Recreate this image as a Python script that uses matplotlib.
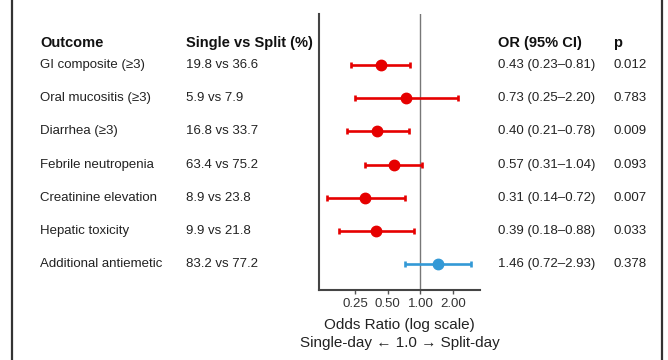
import matplotlib
matplotlib.use("Agg")
import matplotlib.pyplot as plt
from matplotlib.lines import Line2D
import matplotlib.transforms as mtransforms

plt.rcParams['font.family'] = ['Liberation Sans', 'DejaVu Sans']

outcomes = ["GI composite (\u22653)", "Oral mucositis (\u22653)", "Diarrhea (\u22653)",
            "Febrile neutropenia", "Creatinine elevation", "Hepatic toxicity",
            "Additional antiemetic"]
single_vs_split = ["19.8 vs 36.6", "5.9 vs 7.9", "16.8 vs 33.7", "63.4 vs 75.2",
                   "8.9 vs 23.8", "9.9 vs 21.8", "83.2 vs 77.2"]
odds_ratio = [0.43, 0.73, 0.40, 0.57, 0.31, 0.39, 1.46]
ci_low = [0.23, 0.25, 0.21, 0.31, 0.14, 0.18, 0.72]
ci_high = [0.81, 2.20, 0.78, 1.04, 0.72, 0.88, 2.93]
p_values = ["0.012", "0.783", "0.009", "0.093", "0.007", "0.033", "0.378"]
x_ticks = [0.25, 0.5, 1.0, 2.0]
x_tick_labels = ["0.25", "0.50", "1.00", "2.00"]

W, H = 668, 360
fig = plt.figure(figsize=(W / 100, H / 100), dpi=100)
fig.patch.set_facecolor("white")

ax_left, ax_right, ax_top, ax_bot = 319, 480, 14, 290
ax = fig.add_axes([ax_left / W, 1 - ax_bot / H, (ax_right - ax_left) / W, (ax_bot - ax_top) / H])

red = "#e60000"
blue = "#3399d6"
n = len(outcomes)
for i in range(n):
    col = blue if odds_ratio[i] > 1 else red
    ax.errorbar([odds_ratio[i]], [i],
                xerr=[[odds_ratio[i] - ci_low[i]], [ci_high[i] - odds_ratio[i]]],
                fmt="o", color=col, ecolor=col, elinewidth=1.9, capsize=2.5,
                capthick=1.9, markersize=7.5, zorder=3)

ax.axvline(1.0, color="#777777", lw=1.0, zorder=1)
ax.set_xscale("log")
ax.set_xlim(0.117, 3.53)
ax.set_ylim(n - 1 + 0.78, -1.54)
ax.set_xticks(x_ticks)
ax.set_xticklabels(x_tick_labels, fontsize=9.5, color="#333333")
ax.minorticks_off()
ax.set_yticks([])
ax.tick_params(axis="x", length=3, width=1, color="#555555", pad=3)
for s in ["top", "right"]:
    ax.spines[s].set_visible(False)
for s in ["left", "bottom"]:
    ax.spines[s].set_color("#444444")
    ax.spines[s].set_linewidth(1.5)

# table text
trans = mtransforms.blended_transform_factory(fig.transFigure, ax.transData)
col_x = [40 / W, 186 / W, 498 / W, 613 / W]
headers = ["Outcome", "Single vs Split (%)", "OR (95% CI)", "p"]
header_y = -0.66
for x, h in zip(col_x, headers):
    ax.text(x, header_y, h, transform=trans, fontsize=10.5, fontweight="bold",
            ha="left", va="center", color="#111111", clip_on=False)
for i in range(n):
    or_txt = f"{odds_ratio[i]:.2f} ({ci_low[i]:.2f}\u2013{ci_high[i]:.2f})"
    for x, t in zip(col_x, [outcomes[i], single_vs_split[i], or_txt, p_values[i]]):
        ax.text(x, i, t, transform=trans, fontsize=9.5, ha="left", va="center",
                color="#222222", clip_on=False)

cx = (ax_left + ax_right) / 2 / W
fig.text(cx, 1 - 325 / H, "Odds Ratio (log scale)", fontsize=11, ha="center", va="center", color="#222222")
fig.text(cx, 1 - 343 / H, "Single-day \u2190 1.0 \u2192 Split-day", fontsize=11, ha="center", va="center", color="#222222")

# frame borders
for xb in [12.5, 661.5]:
    fig.add_artist(Line2D([xb / W, xb / W], [0, 1], transform=fig.transFigure,
                          color="#333333", lw=1.6))

fig.savefig("out.png", dpi=100, facecolor="white")
